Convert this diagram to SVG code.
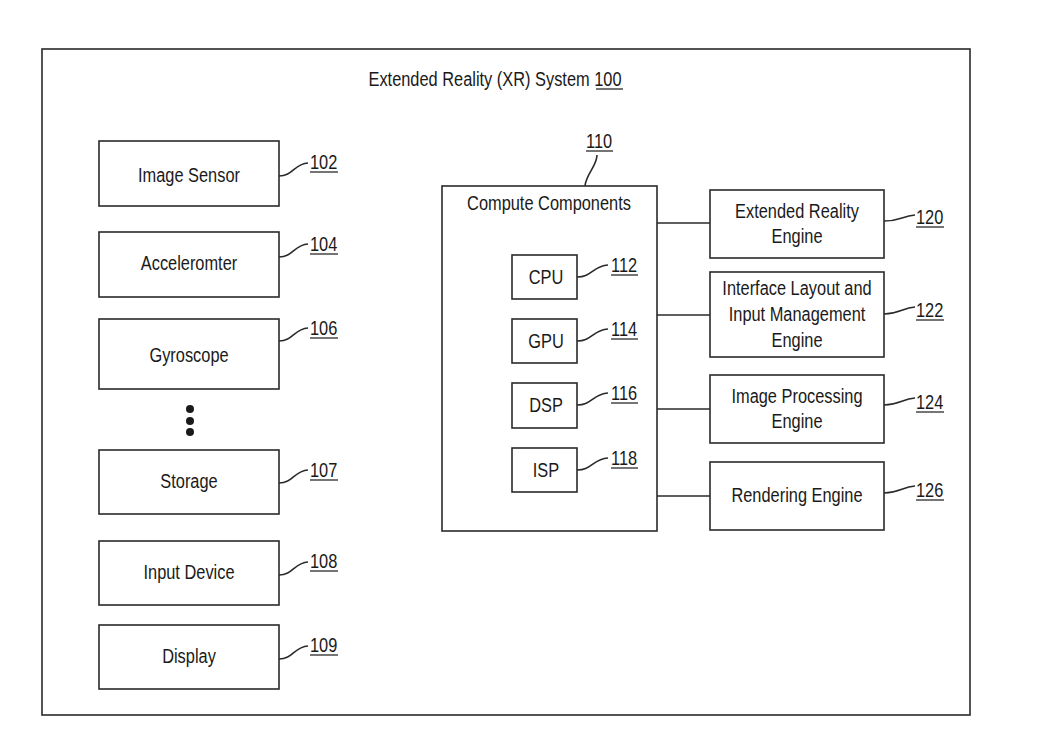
<svg xmlns="http://www.w3.org/2000/svg" width="1063" height="756" viewBox="0 0 1063 756">
<style>
.box{fill:#fff;stroke:#2a2a2a;stroke-width:1.6}
.ln{fill:none;stroke:#2a2a2a;stroke-width:1.6}
.ul{stroke:#2a2a2a;stroke-width:1.3}
text{font-family:"Liberation Sans",Arial,sans-serif;font-size:21px;fill:#1a1a1a}
.c{text-anchor:middle}
</style>
<rect width="1063" height="756" fill="#fff"/>
<rect id="frame" class="box" x="42" y="49" width="928" height="666"/>
<g id="title">
<text class="c" transform="translate(495 86) scale(0.78 1)">Extended Reality (XR) System 100</text>
<line class="ul" x1="596" y1="89" x2="623" y2="89"/>
</g>
<g id="image-sensor">
<rect class="box" x="99" y="141" width="180" height="65"/>
<text class="c" transform="translate(189 182) scale(0.78 1)">Image Sensor</text>
<path class="ln" d="M279,176 C293,176 294,164 308,163"/>
<text transform="translate(310 169) scale(0.78 1)">102</text>
<line class="ul" x1="310" y1="172" x2="338" y2="172"/>
</g>
<g id="accelerometer">
<rect class="box" x="99" y="232" width="180" height="65"/>
<text class="c" transform="translate(189 270) scale(0.78 1)">Acceleromter</text>
<path class="ln" d="M279,257 C293,257 294,245 308,244"/>
<text transform="translate(310 251) scale(0.78 1)">104</text>
<line class="ul" x1="310" y1="254" x2="338" y2="254"/>
</g>
<g id="gyroscope">
<rect class="box" x="99" y="319" width="180" height="70"/>
<text class="c" transform="translate(189 362) scale(0.78 1)">Gyroscope</text>
<path class="ln" d="M279,341 C293,341 294,329 308,328"/>
<text transform="translate(310 335) scale(0.78 1)">106</text>
<line class="ul" x1="310" y1="338" x2="338" y2="338"/>
</g>
<g id="ellipsis">
<circle cx="190" cy="409" r="4" fill="#1a1a1a"/>
<circle cx="190" cy="421" r="4" fill="#1a1a1a"/>
<circle cx="190" cy="432" r="4" fill="#1a1a1a"/>
</g>
<g id="storage">
<rect class="box" x="99" y="450" width="180" height="64"/>
<text class="c" transform="translate(189 488) scale(0.78 1)">Storage</text>
<path class="ln" d="M279,483 C293,483 294,471 308,470"/>
<text transform="translate(310 477) scale(0.78 1)">107</text>
<line class="ul" x1="310" y1="480" x2="338" y2="480"/>
</g>
<g id="input-device">
<rect class="box" x="99" y="541" width="180" height="64"/>
<text class="c" transform="translate(189 579) scale(0.78 1)">Input Device</text>
<path class="ln" d="M279,575 C293,575 294,563 308,562"/>
<text transform="translate(310 568) scale(0.78 1)">108</text>
<line class="ul" x1="310" y1="571" x2="338" y2="571"/>
</g>
<g id="display">
<rect class="box" x="99" y="625" width="180" height="64"/>
<text class="c" transform="translate(189 663) scale(0.78 1)">Display</text>
<path class="ln" d="M279,659 C293,659 294,647 308,646"/>
<text transform="translate(310 652) scale(0.78 1)">109</text>
<line class="ul" x1="310" y1="655" x2="338" y2="655"/>
</g>
<g id="compute-components">
<rect class="box" x="442" y="186" width="215" height="345"/>
<text class="c" transform="translate(549 210) scale(0.78 1)">Compute Components</text>
<path class="ln" d="M597,155 C597,166 586,174 585,186"/>
<text transform="translate(586 148) scale(0.78 1)">110</text>
<line class="ul" x1="586" y1="151" x2="613" y2="151"/>
</g>
<g id="cpu">
<rect class="box" x="512" y="255" width="65" height="44"/>
<text class="c" transform="translate(546 284) scale(0.78 1)">CPU</text>
<path class="ln" d="M577,277 C592,277 593,266 608,265"/>
<text transform="translate(611 272) scale(0.78 1)">112</text>
<line class="ul" x1="611" y1="275" x2="638" y2="275"/>
</g>
<g id="gpu">
<rect class="box" x="512" y="319" width="65" height="44"/>
<text class="c" transform="translate(546 348) scale(0.78 1)">GPU</text>
<path class="ln" d="M577,341 C592,341 593,330 608,329"/>
<text transform="translate(611 336) scale(0.78 1)">114</text>
<line class="ul" x1="611" y1="339" x2="638" y2="339"/>
</g>
<g id="dsp">
<rect class="box" x="512" y="383" width="65" height="45"/>
<text class="c" transform="translate(546 412) scale(0.78 1)">DSP</text>
<path class="ln" d="M577,405 C592,405 593,394 608,393"/>
<text transform="translate(611 400) scale(0.78 1)">116</text>
<line class="ul" x1="611" y1="403" x2="638" y2="403"/>
</g>
<g id="isp">
<rect class="box" x="512" y="448" width="65" height="44"/>
<text class="c" transform="translate(546 477) scale(0.78 1)">ISP</text>
<path class="ln" d="M577,470 C592,470 593,459 608,458"/>
<text transform="translate(611 465) scale(0.78 1)">118</text>
<line class="ul" x1="611" y1="468" x2="638" y2="468"/>
</g>
<g id="connectors">
<line class="ln" x1="657" y1="223" x2="710" y2="223"/>
<line class="ln" x1="657" y1="315" x2="710" y2="315"/>
<line class="ln" x1="657" y1="409" x2="710" y2="409"/>
<line class="ln" x1="657" y1="496" x2="710" y2="496"/>
</g>
<g id="xr-engine">
<rect class="box" x="710" y="190" width="174" height="68"/>
<text class="c" transform="translate(797 218) scale(0.78 1)">Extended Reality</text>
<text class="c" transform="translate(797 243) scale(0.78 1)">Engine</text>
<path class="ln" d="M884,221 C900,221 902,216 915,215"/>
<text transform="translate(916 224) scale(0.78 1)">120</text>
<line class="ul" x1="916" y1="227" x2="944" y2="227"/>
</g>
<g id="interface-engine">
<rect class="box" x="710" y="272" width="174" height="85"/>
<text class="c" transform="translate(797 295) scale(0.78 1)">Interface Layout and</text>
<text class="c" transform="translate(797 321) scale(0.78 1)">Input Management</text>
<text class="c" transform="translate(797 347) scale(0.78 1)">Engine</text>
<path class="ln" d="M884,314 C900,314 902,308 915,307"/>
<text transform="translate(916 317) scale(0.78 1)">122</text>
<line class="ul" x1="916" y1="320" x2="944" y2="320"/>
</g>
<g id="image-processing-engine">
<rect class="box" x="710" y="375" width="174" height="68"/>
<text class="c" transform="translate(797 403) scale(0.78 1)">Image Processing</text>
<text class="c" transform="translate(797 428) scale(0.78 1)">Engine</text>
<path class="ln" d="M884,405 C900,405 902,399 915,398"/>
<text transform="translate(916 409) scale(0.78 1)">124</text>
<line class="ul" x1="916" y1="412" x2="944" y2="412"/>
</g>
<g id="rendering-engine">
<rect class="box" x="710" y="462" width="174" height="68"/>
<text class="c" transform="translate(797 502) scale(0.78 1)">Rendering Engine</text>
<path class="ln" d="M884,493 C900,493 902,487 915,486"/>
<text transform="translate(916 497) scale(0.78 1)">126</text>
<line class="ul" x1="916" y1="500" x2="944" y2="500"/>
</g>
</svg>
